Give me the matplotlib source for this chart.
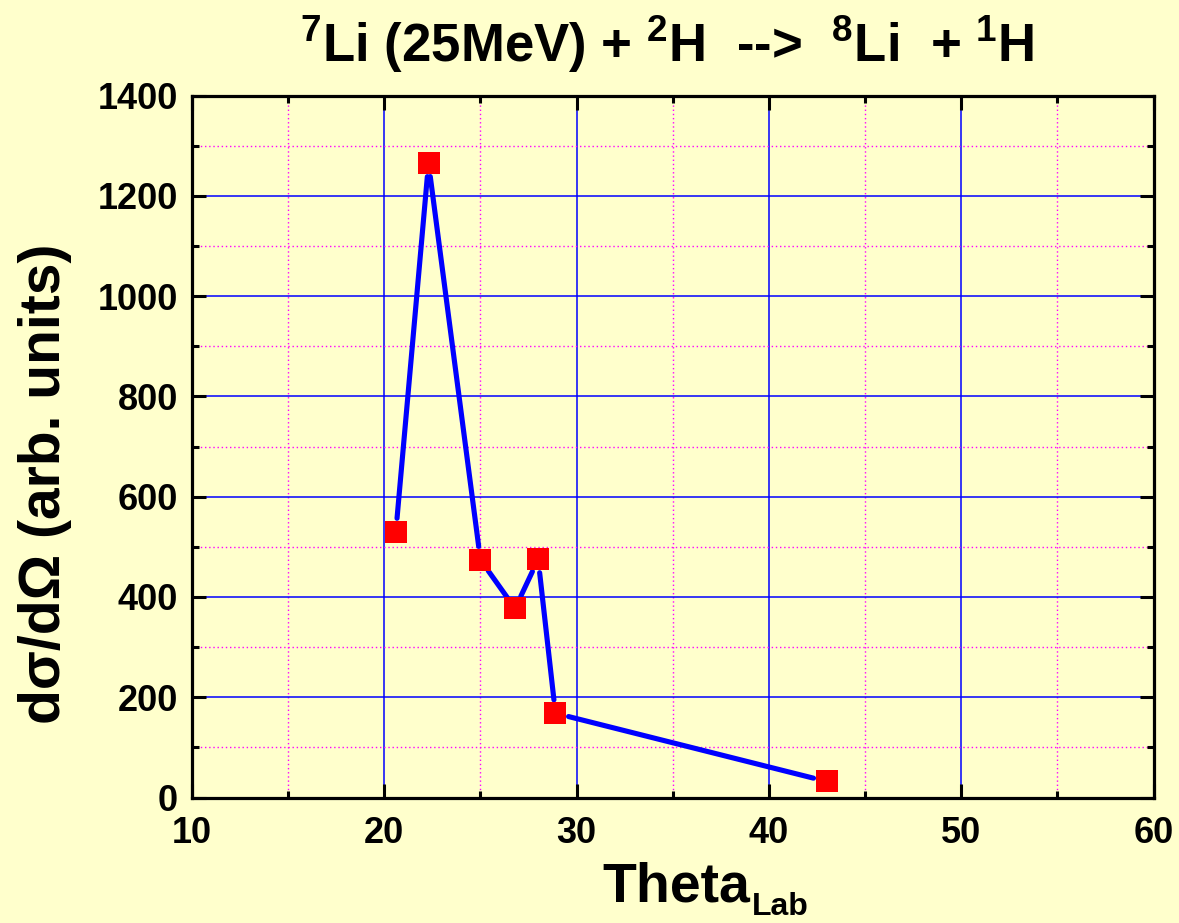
import numpy as np
import matplotlib
matplotlib.use("Agg")
import matplotlib.pyplot as plt
from matplotlib.ticker import MultipleLocator

# Angular distribution of 7Li(d,p)8Li at 25 MeV
theta_lab = [20.6, 22.3, 25.0, 26.8, 28.0, 28.9, 43.0]
dsigma = [530, 1265, 474, 377, 475, 168, 32]

x_ticks = [10, 20, 30, 40, 50, 60]
y_ticks = [0, 200, 400, 600, 800, 1000, 1200, 1400]

BG = "#FFFFCC"
FONT = "Liberation Sans"

plt.rcParams["font.family"] = [FONT, "DejaVu Sans"]
plt.rcParams["font.weight"] = "bold"
plt.rcParams["mathtext.fontset"] = "custom"
plt.rcParams["mathtext.rm"] = FONT + ":bold"
plt.rcParams["mathtext.bf"] = FONT + ":bold"
plt.rcParams["mathtext.it"] = FONT + ":bold"

W, H = 1179, 923
fig = plt.figure(figsize=(W / 100, H / 100), dpi=100, facecolor=BG)
ax = fig.add_axes([192 / W, 1 - 797.5 / H, (1153.5 - 192) / W, (797.5 - 95.5) / H])
ax.set_facecolor(BG)

ax.set_xlim(x_ticks[0], x_ticks[-1])
ax.set_ylim(y_ticks[0], y_ticks[-1])
ax.set_xticks(x_ticks)
ax.set_yticks(y_ticks)
ax.xaxis.set_minor_locator(MultipleLocator(5))
ax.yaxis.set_minor_locator(MultipleLocator(100))

ax.grid(which="major", color="#0000FF", linestyle="-", linewidth=1.1)
ax.grid(which="minor", color="#FF00FF", linestyle=(0, (1, 2)), linewidth=1.0)
ax.set_axisbelow(True)

for s in ax.spines.values():
    s.set_linewidth(2.3)
    s.set_color("black")

ax.tick_params(which="both", direction="in", top=True, right=True,
               width=2.2, color="black")
ax.tick_params(which="major", length=10)
ax.tick_params(which="minor", length=5)
ax.tick_params(axis="x", which="major", pad=13, labelsize=26)
ax.tick_params(axis="y", which="major", pad=10, labelsize=26)
for lab in ax.get_xticklabels() + ax.get_yticklabels():
    lab.set_fontweight("bold")

# connecting line with a gap around every marker
gap = 13.5  # pixels
pts = ax.transData.transform(np.column_stack([theta_lab, dsigma]))
inv = ax.transData.inverted()
for p0, p1 in zip(pts[:-1], pts[1:]):
    d = p1 - p0
    u = d / np.hypot(*d)
    seg = inv.transform(np.array([p0 + u * gap, p1 - u * gap]))
    ax.plot(seg[:, 0], seg[:, 1], color="#0000FF", linewidth=3.7,
            solid_capstyle="round", zorder=3)

ax.plot(theta_lab, dsigma, linestyle="none", marker="s", markersize=15.2,
        markerfacecolor="#FF0000", markeredgecolor="#FF0000",
        markeredgewidth=0, zorder=4)

# title with isotope superscripts
fig.text(667 / W, 1 - 61.7 / H,
         r"$^{7}$Li (25MeV) + $^{2}$H  -->  $^{8}$Li  + $^{1}$H",
         ha="center", va="baseline", fontsize=38, fontweight="bold")

# axis labels
fig.text(45 / W, 1 - 483.5 / H, "dσ/dΩ (arb. units)", rotation=90,
         ha="center", va="center", fontsize=41, fontweight="bold")

t_theta = fig.text(602.7 / W, 22 / H, "Theta", ha="left", va="baseline",
                   fontsize=40, fontweight="bold")
ax.annotate("Lab", xy=(1, 0), xycoords=t_theta, xytext=(1, -1.5),
            textcoords="offset points", ha="left", va="baseline",
            fontsize=23, fontweight="bold", annotation_clip=False)

fig.savefig("out.png", dpi=100, facecolor=BG)
